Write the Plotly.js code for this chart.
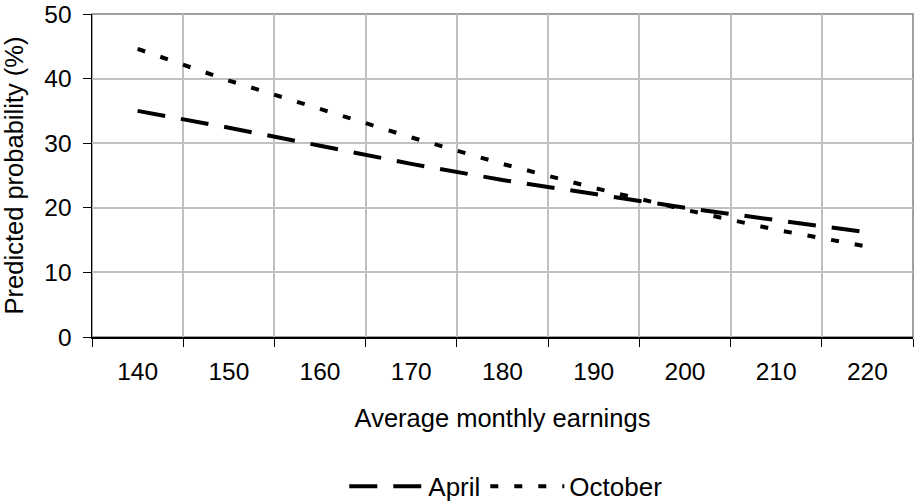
<!DOCTYPE html>
<html>
<head>
<meta charset="utf-8">
<script src="https://cdn.plot.ly/plotly-3.0.1.min.js"></script>
<style>html,body{margin:0;padding:0;background:#fff;}#chart{width:916px;height:503px;}</style>
</head>
<body>
<div id="chart"></div>
<script>
var categories = ['140','150','160','170','180','190','200','210','220'];
var april = [35.0, 32.4, 29.6, 26.8, 24.3, 22.1, 20.0, 18.1, 16.2];
var october = [44.6, 39.7, 35.3, 30.9, 26.8, 23.1, 19.7, 16.6, 14.0];
var yTicks = [0, 10, 20, 30, 40, 50];

var font = 'Liberation Sans, Arial, sans-serif';

var traces = [
  {x: categories, y: april, name: 'April', type: 'scatter', mode: 'lines',
   line: {color: '#000', width: 4, dash: '28px,16px'}},
  {x: categories, y: october, name: 'October', type: 'scatter', mode: 'lines',
   line: {color: '#000', width: 4, dash: '8px,16px'}}
];

var layout = {
  width: 916, height: 503,
  margin: {l: 92, r: 3, t: 14, b: 166, autoexpand: false},
  paper_bgcolor: '#fff', plot_bgcolor: '#fff',
  font: {family: font, size: 24, color: '#000'},
  showlegend: true,
  legend: {orientation: 'h', x: 0.504, xanchor: 'center', y: -0.462, yanchor: 'middle',
           font: {family: font, size: 26, color: '#000'}, itemwidth: 74,
           bgcolor: 'rgba(0,0,0,0)'},
  xaxis: {
    type: 'category', range: [-0.5, 8.5], tickson: 'boundaries',
    ticks: 'outside', ticklen: 8, tickcolor: '#000', tickwidth: 1,
    ticklabelstandoff: 12,
    showline: true, linecolor: '#000', linewidth: 1.5,
    showgrid: true, gridcolor: '#c0c0c0', gridwidth: 2,
    tickfont: {family: font, size: 24.5, color: '#000'},
    title: {text: 'Average monthly earnings', standoff: 25, font: {family: font, size: 25.5, color: '#000'}},
    fixedrange: true
  },
  yaxis: {
    range: [0, 50], tickvals: yTicks, ticktext: yTicks.map(String),
    ticks: 'outside', ticklen: 8, tickcolor: '#000', tickwidth: 1,
    ticklabelstandoff: 6,
    showline: true, linecolor: '#000', linewidth: 1.5,
    showgrid: true, gridcolor: '#c0c0c0', gridwidth: 2, zeroline: false,
    tickfont: {family: font, size: 24.5, color: '#000'},
    title: {text: 'Predicted probability (%)', standoff: 20, font: {family: font, size: 25.5, color: '#000'}},
    fixedrange: true
  },
  shapes: [
    {type: 'rect', xref: 'paper', yref: 'paper', x0: 0, x1: 1, y0: 0, y1: 1,
     line: {color: '#808080', width: 1.5}, layer: 'below'}
  ]
};

Plotly.newPlot('chart', traces, layout, {displayModeBar: false, staticPlot: true});
</script>
</body>
</html>
